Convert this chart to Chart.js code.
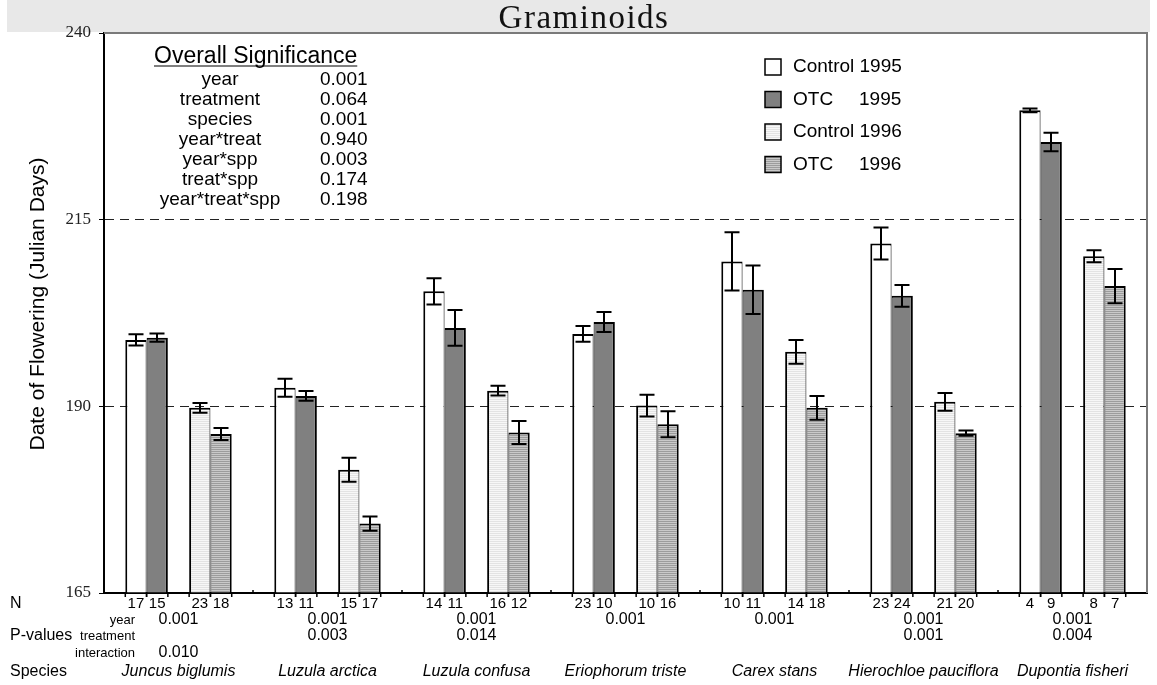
<!DOCTYPE html>
<html>
<head>
<meta charset="utf-8">
<title>Graminoids</title>
<script src="https://cdn.jsdelivr.net/npm/chart.js@4.4.1/dist/chart.umd.min.js"></script>
<style>
  html, body { margin: 0; padding: 0; background: #fff; }
  canvas { display: block; }
</style>
</head>
<body>
<canvas id="chart" width="1157" height="685"></canvas>
<script>
// ---- data -------------------------------------------------------------
const species = ['Juncus biglumis', 'Luzula arctica', 'Luzula confusa', 'Eriophorum triste',
                 'Carex stans', 'Hierochloe pauciflora', 'Dupontia fisheri'];

// mean date of flowering (Julian days) and standard errors
const control1995    = [198.9, 192.5, 205.4, 199.7, 209.4, 211.8, 229.65];
const control1995Err = [0.75, 1.2, 1.75, 1.05, 3.9, 2.15, 0.25];
const otc1995        = [199.2, 191.4, 200.5, 201.3, 205.6, 204.8, 225.4];
const otc1995Err     = [0.55, 0.65, 2.4, 1.35, 3.25, 1.45, 1.25];
const control1996    = [189.8, 181.5, 192.1, 190.1, 197.3, 190.6, 210.1];
const control1996Err = [0.65, 1.6, 0.65, 1.45, 1.6, 1.2, 0.8];
const otc1996        = [186.3, 174.3, 186.5, 187.6, 189.8, 186.4, 206.1];
const otc1996Err     = [0.8, 0.95, 1.55, 1.75, 1.6, 0.35, 2.3];

// sample sizes
const nControl1995 = [17, 13, 14, 23, 10, 23, 4];
const nOtc1995     = [15, 11, 11, 10, 11, 24, 9];
const nControl1996 = [23, 15, 16, 10, 14, 21, 8];
const nOtc1996     = [18, 17, 12, 16, 18, 20, 7];

// per-species p-values
const pYear        = ['0.001', '0.001', '0.001', '0.001', '0.001', '0.001', '0.001'];
const pTreatment   = ['', '0.003', '0.014', '', '', '0.001', '0.004'];
const pInteraction = ['0.010', '', '', '', '', '', ''];

// overall ANOVA
const sigTerms  = ['year', 'treatment', 'species', 'year*treat', 'year*spp', 'treat*spp', 'year*treat*spp'];
const sigValues = ['0.001', '0.064', '0.001', '0.940', '0.003', '0.174', '0.198'];

// value axis
const yMin = 165, yMax = 240, yStep = 25;
const dashedAt = [190, 215];
const yTitle = 'Date of Flowering (Julian Days)';

// ---- fills --------------------------------------------------------------
const canvas = document.getElementById('chart');
const mainCtx = canvas.getContext('2d');
function stripes(rows) {
  const c = document.createElement('canvas');
  c.width = 4; c.height = rows.length;
  const g = c.getContext('2d');
  rows.forEach((col, i) => { g.fillStyle = col; g.fillRect(0, i, 4, 1); });
  return mainCtx.createPattern(c, 'repeat');
}
const fillControl95 = '#ffffff';
const fillOtc95 = '#808080';
const fillControl96 = stripes(['#f7f7f7', '#e3e3e3']);
const fillOtc96 = stripes(['#c9c9c9', '#9c9c9c']);

const leftBar  = { top: 2, left: 2, right: 1, bottom: 0 };
const rightBar = { top: 2, left: 1, right: 2, bottom: 0 };

function barSet(label, data, errors, counts, fill, border) {
  return { label, data, errors, counts, backgroundColor: fill, borderColor: '#000',
           borderWidth: border, base: yMin, borderSkipped: 'start' };
}

// ---- plugins ------------------------------------------------------------
const frame = {
  id: 'frame',
  beforeDraw(chart) {
    const ctx = chart.ctx;
    ctx.save();
    ctx.fillStyle = '#e8e8e8';
    ctx.fillRect(7, 0, 1143, 32);
    ctx.fillStyle = '#111';
    ctx.font = '33px "Liberation Serif"';
    ctx.letterSpacing = '1.5px';
    ctx.textAlign = 'center';
    ctx.textBaseline = 'alphabetic';
    ctx.fillText('Graminoids', 584, 28);
    ctx.restore();
  },
  afterDraw(chart) {
    const { ctx, chartArea: a } = chart;
    ctx.save();
    ctx.strokeStyle = '#7a7a7a';
    ctx.lineWidth = 2;
    ctx.beginPath();
    ctx.moveTo(a.left, a.top); ctx.lineTo(a.right, a.top); ctx.lineTo(a.right, a.bottom);
    ctx.stroke();
    // value-axis title
    ctx.translate(38, 304);
    ctx.rotate(-Math.PI / 2);
    ctx.fillStyle = '#000';
    ctx.font = '21px "Liberation Sans"';
    ctx.textAlign = 'center';
    ctx.textBaseline = 'middle';
    ctx.fillText(yTitle, 0, 0);
    ctx.restore();
  }
};

const errorBars = {
  id: 'errorBars',
  afterDatasetsDraw(chart) {
    const ctx = chart.ctx, y = chart.scales.y;
    ctx.save();
    ctx.strokeStyle = '#000';
    ctx.lineWidth = 2;
    chart.data.datasets.forEach((ds, di) => {
      if (!ds.errors) return;
      chart.getDatasetMeta(di).data.forEach((bar, i) => {
        const hi = y.getPixelForValue(ds.data[i] + ds.errors[i]);
        const lo = y.getPixelForValue(ds.data[i] - ds.errors[i]);
        const x = Math.round(bar.x);
        ctx.beginPath();
        ctx.moveTo(x, hi); ctx.lineTo(x, lo);
        ctx.moveTo(x - 7.5, hi); ctx.lineTo(x + 7.5, hi);
        ctx.moveTo(x - 7.5, lo); ctx.lineTo(x + 7.5, lo);
        ctx.stroke();
      });
    });
    ctx.restore();
  }
};

const table = {
  id: 'table',
  afterDraw(chart) {
    const { ctx, chartArea: a } = chart;
    const x = chart.scales.x;
    ctx.save();
    ctx.fillStyle = '#000';
    ctx.strokeStyle = '#000';
    ctx.lineWidth = 1.5;

    // small marks under the bar edges and at species boundaries
    chart.data.datasets.forEach((ds, di) => {
      if (!ds.errors) return;
      chart.getDatasetMeta(di).data.forEach(bar => {
        [bar.x - bar.width / 2, bar.x + bar.width / 2].forEach(px => {
          ctx.beginPath(); ctx.moveTo(px, a.bottom); ctx.lineTo(px, a.bottom + 4); ctx.stroke();
        });
      });
    });
    const cat = (a.right - a.left) / species.length;
    for (let i = 1; i < species.length; i++) {
      const px = x.getPixelForValue(i) - cat / 2;
      ctx.beginPath(); ctx.moveTo(px, a.bottom - 3); ctx.lineTo(px, a.bottom); ctx.stroke();
    }

    ctx.textBaseline = 'middle';
    // row headings
    ctx.textAlign = 'left';
    ctx.font = '16px "Liberation Sans"';
    ctx.fillText('N', 10, 604);
    ctx.fillText('P-values', 10, 636);
    ctx.fillText('Species', 10, 672);
    ctx.textAlign = 'right';
    ctx.font = '13px "Liberation Sans"';
    ctx.fillText('year', 135, 620);
    ctx.fillText('treatment', 135, 636);
    ctx.fillText('interaction', 135, 653);

    // sample sizes under each bar
    ctx.textAlign = 'center';
    ctx.font = '15px "Liberation Sans"';
    chart.data.datasets.forEach((ds, di) => {
      if (!ds.counts) return;
      chart.getDatasetMeta(di).data.forEach((bar, i) => {
        ctx.fillText(String(ds.counts[i]), bar.x, 604);
      });
    });

    // p-values and species names
    species.forEach((name, i) => {
      const cx = x.getPixelForValue(i);
      ctx.font = '16px "Liberation Sans"';
      if (pYear[i]) ctx.fillText(pYear[i], cx, 620);
      if (pTreatment[i]) ctx.fillText(pTreatment[i], cx, 636);
      if (pInteraction[i]) ctx.fillText(pInteraction[i], cx, 653);
      ctx.font = 'italic 16px "Liberation Sans"';
      ctx.fillText(name, cx, 672);
    });

    // overall significance block
    ctx.textAlign = 'left';
    ctx.textBaseline = 'alphabetic';
    ctx.font = '23px "Liberation Sans"';
    const head = 'Overall Significance';
    ctx.fillText(head, 154, 63);
    const w = ctx.measureText(head).width;
    ctx.lineWidth = 1.2;
    ctx.beginPath(); ctx.moveTo(154, 66); ctx.lineTo(154 + w, 66); ctx.stroke();
    ctx.font = '19px "Liberation Sans"';
    ctx.textBaseline = 'middle';
    sigTerms.forEach((t, i) => {
      ctx.textAlign = 'center';
      ctx.fillText(t, 220, 80 + 20 * i);
      ctx.textAlign = 'left';
      ctx.fillText(sigValues[i], 320, 80 + 20 * i);
    });

    // legend
    ctx.font = '19px "Liberation Sans"';
    const legendSets = chart.data.datasets.filter(ds => ds.errors);
    legendSets.forEach((ds, i) => {
      const cy = 67 + 32.5 * i;
      ctx.fillStyle = ds.backgroundColor;
      ctx.fillRect(765, cy - 8, 16, 16);
      ctx.lineWidth = 1.5;
      ctx.strokeRect(765, cy - 8, 16, 16);
      ctx.fillStyle = '#000';
      const parts = ds.label.split(' ');
      ctx.textAlign = 'left';
      ctx.fillText(parts[0], 793, cy);
      const yrX = Math.max(859, 793 + ctx.measureText(parts[0] + ' ').width);
      ctx.fillText(parts[1], yrX, cy);
    });
    ctx.restore();
  }
};

// ---- chart --------------------------------------------------------------
new Chart(canvas, {
  type: 'bar',
  data: {
    labels: species,
    datasets: [
      barSet('Control 1995', control1995, control1995Err, nControl1995, fillControl95, leftBar),
      barSet('OTC 1995', otc1995, otc1995Err, nOtc1995, fillOtc95, rightBar),
      // empty slot separating the 1995 pair from the 1996 pair
      { label: '', data: species.map(() => null) },
      barSet('Control 1996', control1996, control1996Err, nControl1996, fillControl96, leftBar),
      barSet('OTC 1996', otc1996, otc1996Err, nOtc1996, fillOtc96, rightBar)
    ]
  },
  options: {
    responsive: false,
    animation: false,
    events: [],
    categoryPercentage: 5 / 7,
    barPercentage: 1,
    layout: { padding: { top: 33, right: 10, left: 0, bottom: 0 } },
    plugins: { legend: { display: false }, tooltip: { enabled: false } },
    scales: {
      x: {
        grid: { display: false },
        ticks: { display: false },
        border: { display: true, color: '#000', width: 2 },
        afterFit(scale) { scale.height = 92; }
      },
      y: {
        min: yMin, max: yMax,
        ticks: {
          stepSize: yStep,
          color: '#222',
          padding: 8,
          font: { family: 'Liberation Serif', size: 17 }
        },
        grid: {
          color: c => (c.tick && dashedAt.includes(c.tick.value)) ? '#222' : 'rgba(0,0,0,0)',
          tickColor: '#000',
          tickLength: 5,
          tickBorderDash: [],
          lineWidth: 1
        },
        border: { display: true, color: '#000', width: 2, dash: [9, 6] },
        afterFit(scale) { scale.width = 104; }
      }
    }
  },
  plugins: [frame, errorBars, table]
});
</script>
</body>
</html>
